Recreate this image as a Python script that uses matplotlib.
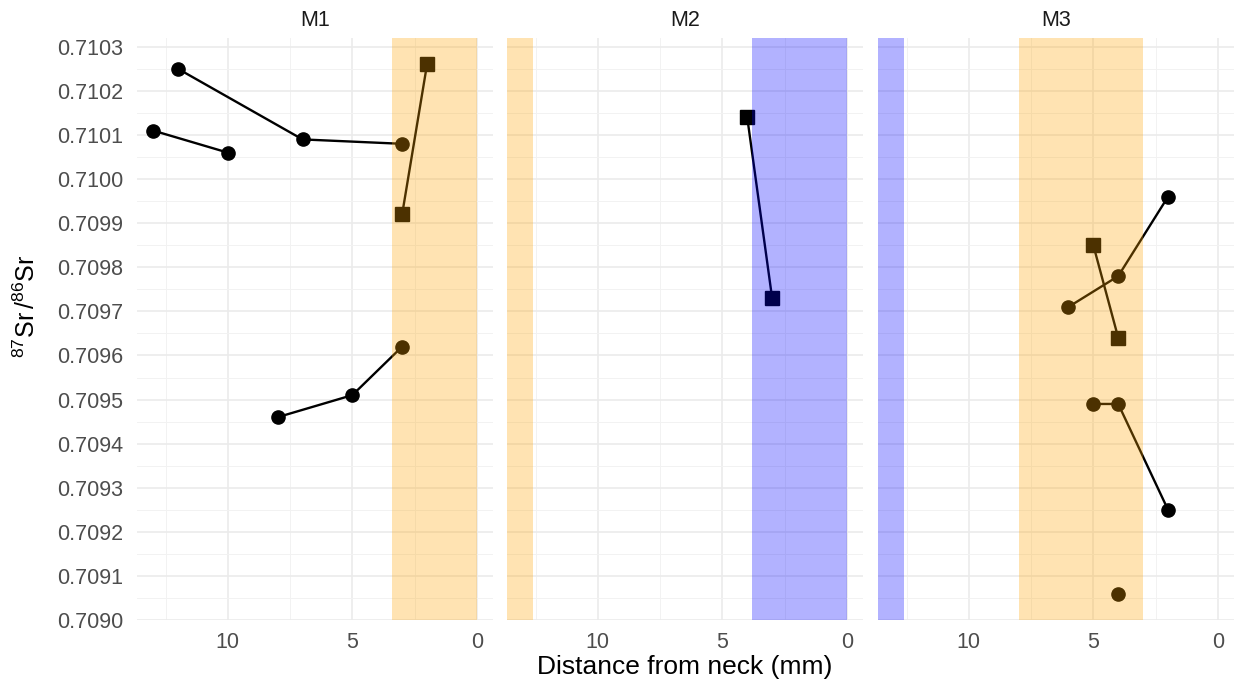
import numpy as np
import matplotlib.pyplot as plt

plt.rcParams['font.family'] = ['Liberation Sans', 'DejaVu Sans']
plt.rcParams['mathtext.fontset'] = 'custom'
plt.rcParams['mathtext.rm'] = 'Liberation Sans'

# ------------------------------
# Daten
# ------------------------------
panels = ["M1", "M2", "M3"]

# M1
m1_a_x = [13, 10]
m1_a_y = [0.71011, 0.71006]
m1_b_x = [12, 7, 3]
m1_b_y = [0.71025, 0.71009, 0.71008]
m1_c_x = [3, 2]
m1_c_y = [0.70992, 0.71026]
m1_d_x = [8, 5, 3]
m1_d_y = [0.70946, 0.70951, 0.70962]

# M2
m2_a_x = [4, 3]
m2_a_y = [0.71014, 0.70973]

# M3
m3_a_x = [6, 4, 2]
m3_a_y = [0.70971, 0.70978, 0.70996]
m3_b_x = [5, 4]
m3_b_y = [0.70985, 0.70964]
m3_c_x = [5, 4, 2]
m3_c_y = [0.70949, 0.70949, 0.70925]
m3_d_x = [4]
m3_d_y = [0.70906]

series = {
    "M1": [(m1_a_x, m1_a_y, 'o'), (m1_b_x, m1_b_y, 'o'),
           (m1_c_x, m1_c_y, 's'), (m1_d_x, m1_d_y, 'o')],
    "M2": [(m2_a_x, m2_a_y, 's')],
    "M3": [(m3_a_x, m3_a_y, 'o'), (m3_b_x, m3_b_y, 's'),
           (m3_c_x, m3_c_y, 'o'), (m3_d_x, m3_d_y, 'o')],
}

# Farbige Bereiche (xmin, xmax, Farbe); None = bis zum Rand
shades = {
    "M1": [(3.4, 0, 'orange')],
    "M2": [(None, 12.6, 'orange'), (3.8, 0, 'blue')],
    "M3": [(None, 12.6, 'blue'), (8, 3, 'orange')],
}

x_lim = (13.65, -0.65)
y_lim = (0.70900, 0.71032)

# ------------------------------
# Plot
# ------------------------------
fig = plt.figure(figsize=(12.38, 6.86), dpi=100)
lefts = [137, 507, 878]
for i, name in enumerate(panels):
    ax = fig.add_axes([lefts[i] / 1238, 1 - 620 / 686, 356 / 1238, 582 / 686])
    ax.set_xlim(x_lim)
    ax.set_ylim(y_lim)
    for xs, ys, m in series[name]:
        ax.plot(xs, ys, color='black', lw=1.7, marker=m, markersize=9.5, zorder=2)
    for x0, x1, c in shades[name]:
        if x0 is None:
            x0 = x_lim[0]
        ax.axvspan(x0, x1, color=c, alpha=0.3, lw=0, zorder=3)

    ax.set_xticks([10, 5, 0])
    ax.set_xticks([12.5, 7.5, 2.5], minor=True)
    ax.set_yticks(np.arange(0.7090, 0.71031, 0.0001))
    ax.set_yticks(np.arange(0.70905, 0.71031, 0.0001), minor=True)
    ax.grid(True, which='major', color='#EBEBEB', lw=1.2, zorder=0)
    ax.grid(True, which='minor', color='#F2F2F2', lw=0.7, zorder=0)
    ax.set_axisbelow(True)
    for s in ax.spines.values():
        s.set_visible(False)
    ax.tick_params(which='both', length=0, labelsize=15.5, labelcolor='#4D4D4D')
    ax.tick_params(axis='x', pad=9)
    ax.tick_params(axis='y', pad=10)
    if i == 0:
        ax.set_yticklabels([f"{v:.4f}" for v in np.arange(0.7090, 0.71031, 0.0001)])
    else:
        ax.set_yticklabels([])
    ax.set_title(name, fontsize=15.5, color='#1A1A1A', pad=9)

fig.text(685 / 1238, 1 - 667 / 686, "Distance from neck (mm)", ha='center',
         va='center', fontsize=19, color='black')
fig.text(27 / 1238, 1 - 306 / 686, r"$^{87}$Sr$\,$/$^{86}$Sr", ha='center',
         va='center', rotation=90, fontsize=18, color='black')

plt.savefig("out.png", dpi=100)
